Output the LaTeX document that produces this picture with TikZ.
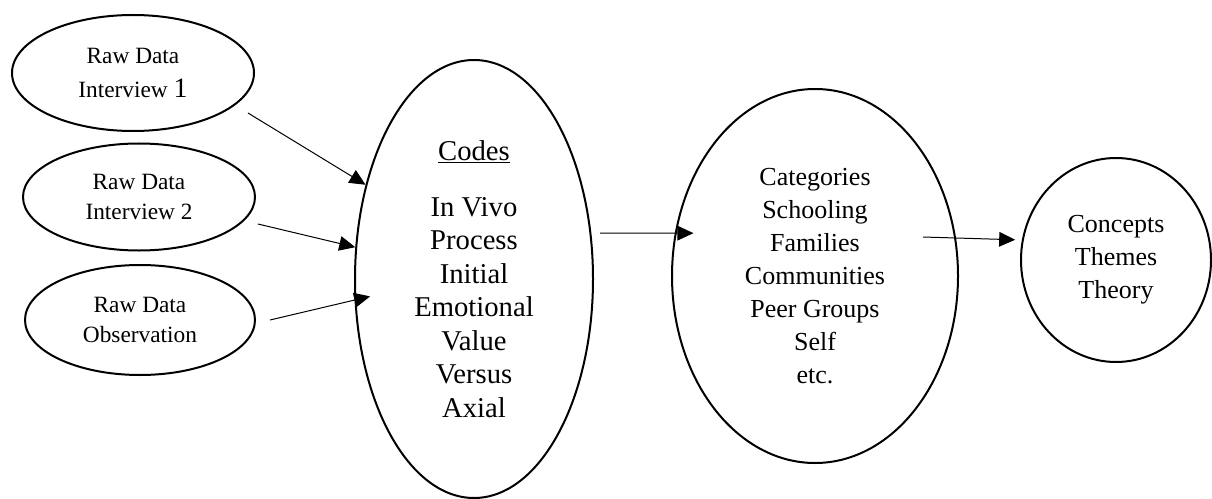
\documentclass[tikz,border=0pt]{standalone}
\usepackage{fontspec}
\setmainfont{Liberation Serif}
\usetikzlibrary{arrows.meta, shapes.geometric}

\begin{document}
\begin{tikzpicture}[
    x=0.75pt, y=-0.75pt,
    bubble/.style={draw, ellipse, line width=1.5pt, inner sep=0pt, align=center},
    raw/.style={bubble, font=\fontsize{17.5}{22.5}\selectfont},
    flow/.style={-{Triangle[length=12pt, width=11pt]}, line width=0.75pt}
  ]

  \useasboundingbox (0,0) rectangle (1212,499);

  \node[raw, minimum width=181.5pt, minimum height=87pt] (raw1) at (133,73)
    {Raw Data\\[3pt] Interview {\fontsize{21}{22}\selectfont 1}};
  \node[raw, minimum width=174pt, minimum height=80.25pt] (raw2) at (139,197)
    {Raw Data\\ Interview 2};
  \node[raw, minimum width=172.5pt, minimum height=82.5pt] (raw3) at (140,320)
    {Raw Data\\ Observation};

  \node[bubble, minimum width=178.5pt, minimum height=328.5pt,
        font=\fontsize{21.5}{25.1}\selectfont] (codes) at (474,279)
    {\underline{Codes}\\[17pt] In Vivo\\ Process\\ Initial\\ Emotional\\ Value\\ Versus\\ Axial};

  \node[bubble, minimum width=214.5pt, minimum height=280.5pt,
        font=\fontsize{19.5}{24.75}\selectfont] (cat) at (815,276)
    {Categories\\ Schooling\\ Families\\ Communities\\ Peer Groups\\ Self\\ etc.};

  \node[bubble, minimum width=142.5pt, minimum height=153pt,
        font=\fontsize{19.5}{24.75}\selectfont] (conc) at (1116,260)
    {Concepts\\ Themes\\ Theory};

  %\draw[flow] (raw1) -- (codes);
  \coordinate (raw1out) at (248,113);
  \coordinate (raw2out) at (258,224);
  \coordinate (raw3out) at (270,320);
  \coordinate (codesout) at (600,233);
  \coordinate (catout) at (923,237);

  \draw[flow] (raw1out) -- (codes.139);
  \draw[flow] (raw2out) -- (codes.165);
  \draw[flow, shorten >=-12pt] (raw3out) -- (codes.190);
  \draw[flow, shorten >=-14pt] (codesout) -- (cat.163);
  \draw[flow, shorten >=5pt] (catout) -- (conc.168);

\end{tikzpicture}
\end{document}
